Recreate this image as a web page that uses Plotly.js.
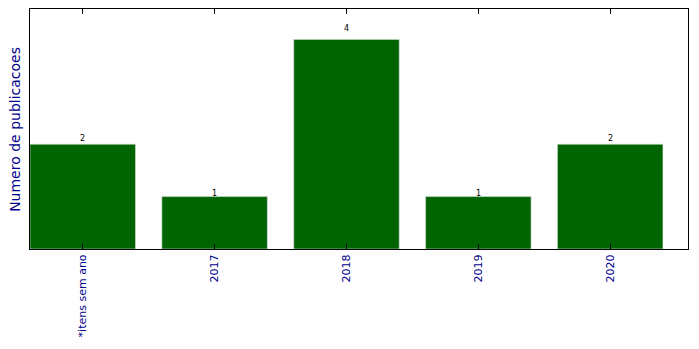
<!DOCTYPE html>
<html><head><meta charset="utf-8">
<script src="https://cdn.plot.ly/plotly-3.0.1.min.js"></script>
<style>body{margin:0;padding:0;background:#fff}#chart{width:699px;height:349px}</style>
</head><body><div id="chart"></div>
<script>
const categories = ["*itens sem ano", "2017", "2018", "2019", "2020"];
const counts = [2, 1, 4, 1, 2];
const barLabels = ["2", "1", "4", "1", "2"];
const yTitle = "Numero de publicacoes";

const xIdx = categories.map((_, i) => i);

const trace = {
  type: 'bar',
  x: xIdx,
  y: counts,
  width: 0.8,
  marker: {color: '#006400', line: {color: '#d8e0d8', width: 0.6}},
  hoverinfo: 'skip'
};

const annotations = xIdx.map((x, i) => ({
  x: x, y: counts[i] * 1.05, xref: 'x', yref: 'y',
  text: barLabels[i], showarrow: false,
  yanchor: 'bottom', yshift: -6,
  font: {family: 'DejaVu Sans', size: 8, color: '#000'}
}));

annotations.push({
  xref: 'paper', yref: 'paper', x: -0.023, y: 0.5,
  xanchor: 'center', yanchor: 'middle', textangle: -90,
  text: yTitle, showarrow: false,
  font: {family: 'DejaVu Sans', size: 14, color: '#00008B'}
});

const layout = {
  width: 699, height: 349,
  margin: {l: 30, r: 11, t: 9, b: 100},
  paper_bgcolor: '#fff', plot_bgcolor: '#fff',
  showlegend: false,
  bargap: 0.2,
  xaxis: {
    range: [-0.4, 4.59],
    tickmode: 'array', tickvals: xIdx, ticktext: categories,
    tickangle: -90,
    ticks: 'inside', ticklen: 5, tickwidth: 1, tickcolor: '#000',
    showline: true, linecolor: '#000', linewidth: 1, mirror: 'ticks',
    showgrid: false, zeroline: false,
    tickfont: {family: 'DejaVu Sans', size: 11, color: '#00008B'}
  },
  yaxis: {
    range: [0, 4.58],
    showticklabels: false, ticks: '',
    showline: true, linecolor: '#000', linewidth: 1, mirror: true,
    showgrid: false, zeroline: false
  },
  annotations: annotations
};

Plotly.newPlot('chart', [trace], layout, {displayModeBar: false, staticPlot: true});
</script></body></html>
